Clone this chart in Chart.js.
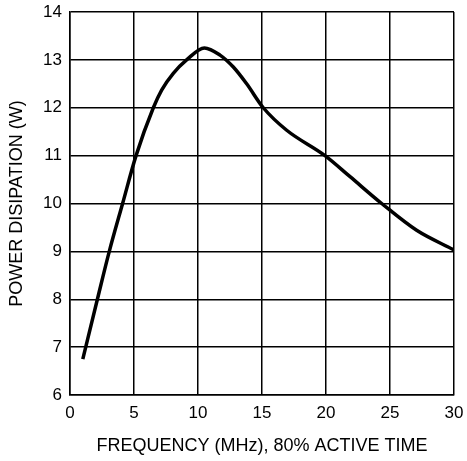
<!DOCTYPE html>
<html>
<head>
<meta charset="utf-8">
<script src="https://cdn.jsdelivr.net/npm/chart.js@4/dist/chart.umd.min.js"></script>
<style>
  html, body { margin: 0; padding: 0; background: #fff; }
  #wrap { width: 467px; height: 461px; }
</style>
</head>
<body>
<div id="wrap"><canvas id="myChart"></canvas></div>
<script>
    // frequency (MHz) vs power dissipation (W)
    const freqValues = [1, 2.14, 3.07, 4.11, 5.16, 6.51, 7.16, 8.07, 9.11, 10.5, 11.72, 12.76, 13.8, 15.1, 16.93, 19.92, 21.88, 24.35, 27.08, 30];
    const powerValues = [6.75, 8, 9, 10, 11, 12, 12.37, 12.72, 13, 13.25, 13.1, 12.85, 12.5, 12, 11.53, 11, 10.56, 10, 9.44, 9.03];

    const points = freqValues.map((f, i) => ({ x: f, y: powerValues[i] }));
    const tickFont = { family: "Liberation Sans, Arial, sans-serif", size: 17 };
    const titleFont = { family: "Liberation Sans, Arial, sans-serif", size: 18 };

    new Chart("myChart", {
        type: "line",
        data: {
            datasets: [{
                data: points,
                borderColor: "#000",
                borderWidth: 3.5,
                pointRadius: 0,
                cubicInterpolationMode: "monotone",
                fill: false
            }]
        },
        options: {
            responsive: true,
            maintainAspectRatio: false,
            animation: false,
            layout: { padding: { top: 12, right: 13, left: 0, bottom: 0 } },
            plugins: { legend: { display: false }, tooltip: { enabled: false } },
            scales: {
                x: {
                    type: "linear",
                    min: 0, max: 30,
                    ticks: { stepSize: 5, color: "#000", font: tickFont, padding: 8 },
                    grid: { color: "#000", lineWidth: 1.5, drawTicks: false },
                    border: { color: "#000", width: 1.5 },
                    title: { display: true, text: "FREQUENCY (MHz), 80% ACTIVE TIME", color: "#000", font: titleFont, padding: { top: 16, bottom: 4 } },
                    afterFit: s => { s.height = 66; s.paddingLeft = 0; s.paddingRight = 0; }
                },
                y: {
                    min: 6, max: 14,
                    ticks: { stepSize: 1, color: "#000", font: tickFont, padding: 8 },
                    grid: { color: "#000", lineWidth: 1.5, drawTicks: false },
                    border: { color: "#000", width: 1.5 },
                    title: { display: true, text: "POWER DISIPATION (W)", color: "#000", font: titleFont, padding: { top: 6, bottom: 0 } },
                    afterFit: s => { s.width = 70; s.paddingTop = 0; s.paddingBottom = 0; }
                }
            }
        }
    });
</script>
</body>
</html>
